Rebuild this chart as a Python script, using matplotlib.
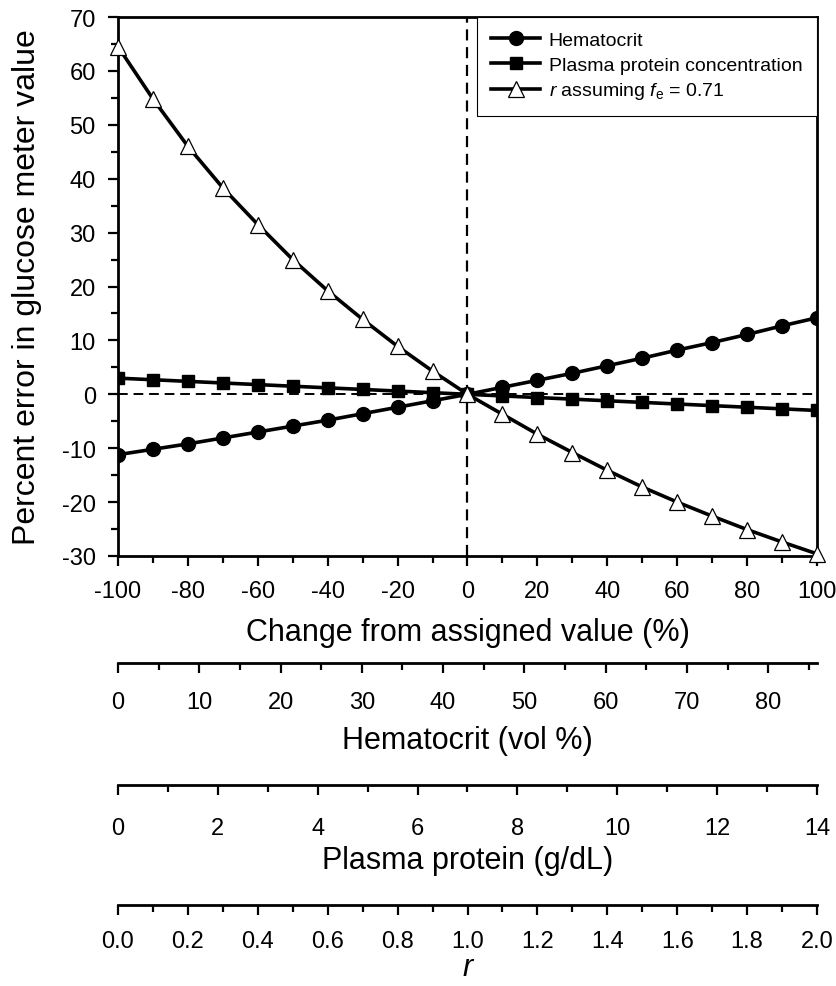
import matplotlib
matplotlib.use("Agg")
import matplotlib.pyplot as plt
from matplotlib.ticker import MultipleLocator
import numpy as np

plt.rcParams['font.family'] = ['Liberation Sans', 'DejaVu Sans']
plt.rcParams['mathtext.fontset'] = 'custom'
plt.rcParams['mathtext.rm'] = 'Liberation Sans'
plt.rcParams['mathtext.it'] = 'Liberation Sans:italic'
plt.rcParams['axes.unicode_minus'] = False

change = [-100, -90, -80, -70, -60, -50, -40, -30, -20, -10, 0,
          10, 20, 30, 40, 50, 60, 70, 80, 90, 100]
hematocrit_err = [-11.2, -10.2, -9.2, -8.1, -7.0, -5.9, -4.8, -3.6, -2.4, -1.2, 0.0,
                  1.3, 2.6, 3.9, 5.3, 6.7, 8.2, 9.6, 11.1, 12.7, 14.2]
protein_err = [3.0, 2.7, 2.4, 2.1, 1.8, 1.5, 1.2, 0.9, 0.6, 0.3, 0.0,
               -0.3, -0.6, -0.9, -1.2, -1.5, -1.8, -2.1, -2.4, -2.7, -3.0]
r_err = [64.5, 54.8, 46.0, 38.3, 31.5, 25.0, 19.2, 13.9, 8.9, 4.3, 0.0,
         -3.7, -7.4, -10.8, -14.1, -17.2, -20.0, -22.6, -25.1, -27.4, -29.6]

series_labels = ['Hematocrit', 'Plasma protein concentration',
                 r'$\it{r}$ assuming $\it{f}_{\rm e}$ = 0.71']

W, H = 837, 987
fig = plt.figure(figsize=(W / 100, H / 100), dpi=100)

L, R = 118 / W, 817 / W
ax = fig.add_axes([L, 1 - 557 / H, R - L, (557 - 18) / H])

TICK_FS = 17
LAB_FS = 22

ax.axvline(0, color='black', ls=(0, (5, 3)), lw=1.6, zorder=1)
ax.axhline(0, color='black', ls=(0, (5, 3)), lw=1.4, zorder=1)

ax.plot(change, hematocrit_err, color='black', lw=2.6, marker='o', ms=10,
        mfc='black', mec='black', label=series_labels[0], zorder=3)
ax.plot(change, protein_err, color='black', lw=2.6, marker='s', ms=9,
        mfc='black', mec='black', label=series_labels[1], zorder=3)
ax.plot(change, r_err, color='black', lw=2.6, marker='^', ms=11,
        mfc='white', mec='black', mew=0.9, label=series_labels[2], zorder=4,
        clip_on=False)

ax.set_xlim(-100, 100)
ax.set_ylim(-30, 70)
ax.xaxis.set_major_locator(MultipleLocator(20))
ax.xaxis.set_minor_locator(MultipleLocator(10))
ax.yaxis.set_major_locator(MultipleLocator(10))
ax.yaxis.set_minor_locator(MultipleLocator(5))
ax.tick_params(which='both', direction='out', width=1.6, labelsize=TICK_FS,
               top=False, right=False)
ax.tick_params(axis='x', pad=10)
ax.tick_params(axis='y', pad=9)
ax.tick_params(which='major', length=7)
ax.tick_params(which='minor', length=5)
for s in ax.spines.values():
    s.set_linewidth(2.0)
ax.set_xlabel('Change from assigned value (%)', fontsize=LAB_FS, labelpad=11)
ax.set_ylabel('Percent error in glucose meter value', fontsize=23, labelpad=14)

leg = ax.legend(loc='upper right', fontsize=14, frameon=True, fancybox=False,
                edgecolor='black', framealpha=1, borderaxespad=0,
                handlelength=2.5, handletextpad=0.45, labelspacing=0.35,
                borderpad=0.75)
leg.get_frame().set_linewidth(0.8)


def extra_axis(ypix, xmax, major, minor, label, fmt, pad, labelpad, italic=False):
    a = fig.add_axes([L, 1 - ypix / H, R - L, 1e-6])
    a.set_facecolor('none')
    for k in ('top', 'left', 'right'):
        a.spines[k].set_visible(False)
    a.spines['bottom'].set_linewidth(2.0)
    a.set_xlim(0, xmax)
    a.set_yticks([])
    a.xaxis.set_major_locator(MultipleLocator(major))
    a.xaxis.set_minor_locator(MultipleLocator(minor))
    a.xaxis.set_major_formatter(fmt)
    a.tick_params(which='both', direction='out', width=1.6, labelsize=TICK_FS, pad=pad)
    a.tick_params(which='major', length=7)
    a.tick_params(which='minor', length=5)
    a.set_xlabel(label, fontsize=LAB_FS, labelpad=labelpad,
                 fontstyle='italic' if italic else 'normal')
    return a


hct_max = 86
prot_max = 14
r_max = 2.0
extra_axis(664, hct_max, 10, 5, 'Hematocrit (vol %)', '{x:.0f}', 13, 9)
extra_axis(786, prot_max, 2, 1, 'Plasma protein (g/dL)', '{x:.0f}', 16, 4)
extra_axis(906, r_max, 0.2, 0.1, 'r', '{x:.1f}', 11, 0, italic=True)

fig.savefig('out.png', dpi=100)
